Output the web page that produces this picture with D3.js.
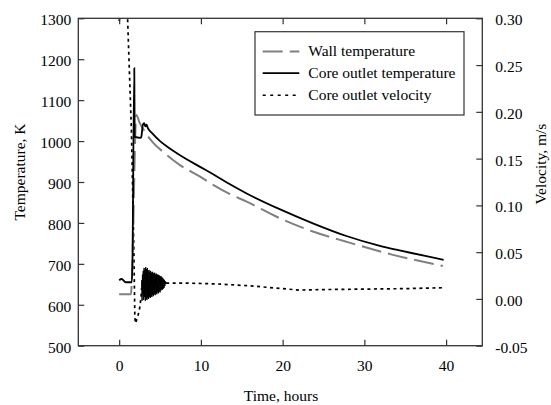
<!DOCTYPE html>
<html>
<head>
<meta charset="utf-8">
<script src="https://cdn.jsdelivr.net/npm/d3@7"></script>
</head>
<body style="margin:0;padding:0;background:#fff">
<svg id="chart" width="551" height="405"></svg>
<script>
// ---------------- data ----------------
const xTicks = [0, 10, 20, 30, 40];
const tempTicks = [500, 600, 700, 800, 900, 1000, 1100, 1200, 1300];
const velTicks = [-0.05, 0.00, 0.05, 0.10, 0.15, 0.20, 0.25, 0.30];
const velTickLabels = ["-0.05", "0.00", "0.05", "0.10", "0.15", "0.20", "0.25", "0.30"];

const seriesNames = ["Wall temperature", "Core outlet temperature", "Core outlet velocity"];

const wallTime = [0, 1.45, 1.55, 2.1, 2.5, 2.9, 3.4, 4.2, 5.6, 7.4, 9.9, 11.5, 13.5, 15.6, 19.7, 23.7, 27.8, 33.5, 39.6];
const wallTemp = [626, 626, 660, 1064, 1045, 1031, 1015, 995, 970, 942, 913, 893, 871, 852, 811, 779, 754, 722, 695];

const coreTime = [0, 0.3, 0.8, 1.55, 1.62, 1.85, 1.9, 2.6, 2.7, 2.9, 3.05, 3.2, 3.35, 3.5, 4.0, 5.0, 6.2, 7.4, 9.9, 11.5, 13.5, 15.6, 19.7, 23.7, 27.8, 31.9, 34.3, 39.7];
const coreTemp = [660, 663, 655, 655, 700, 1178, 1010, 1008, 1010, 1040, 1044, 1036, 1040, 1032, 1020, 1000, 982, 966, 937, 919, 895, 872, 833, 799, 768, 744, 733, 710];

// velocity: start-up transient, oscillation burst (≈2.75–5.75 h), then slow decline
const velTime = [0, 0.4, 0.9, 1.03, 1.5, 1.8, 1.92, 2.0, 2.3, 2.55, 2.7,
  2.750, 2.775, 2.800, 2.825, 2.850, 2.875, 2.900, 2.925, 2.950, 2.975,
  3.000, 3.025, 3.050, 3.075, 3.100, 3.125, 3.150, 3.175, 3.200, 3.225,
  3.250, 3.275, 3.300, 3.325, 3.350, 3.375, 3.400, 3.425, 3.450, 3.475,
  3.500, 3.525, 3.550, 3.575, 3.600, 3.625, 3.650, 3.675, 3.700, 3.725,
  3.750, 3.775, 3.800, 3.825, 3.850, 3.875, 3.900, 3.925, 3.950, 3.975,
  4.000, 4.025, 4.050, 4.075, 4.100, 4.125, 4.150, 4.175, 4.200, 4.225,
  4.250, 4.275, 4.300, 4.325, 4.350, 4.375, 4.400, 4.425, 4.450, 4.475,
  4.500, 4.525, 4.550, 4.575, 4.600, 4.625, 4.650, 4.675, 4.700, 4.725,
  4.750, 4.775, 4.800, 4.825, 4.850, 4.875, 4.900, 4.925, 4.950, 4.975,
  5.000, 5.025, 5.050, 5.075, 5.100, 5.125, 5.150, 5.175, 5.200, 5.225,
  5.250, 5.275, 5.300, 5.325, 5.350, 5.375, 5.400, 5.425, 5.450, 5.475,
  5.500, 5.525, 5.550, 5.575, 5.600, 5.625, 5.650, 5.675, 5.700, 5.725, 5.750,
  6.5, 8, 12, 16, 20, 22, 25, 30, 35, 39.7];
const velValue = [0.297, 0.32, 0.32, 0.30, 0.18, 0.05, -0.02, -0.026, -0.018, -0.008, 0.005,
  0.012, 0.020, -0.002, 0.018, 0.026, 0.008, 0.004, 0.024, 0.030, 0.010,
  -0.001, 0.022, 0.033, 0.006, 0.002, 0.027, 0.031, 0.012, -0.002, 0.019,
  0.034, 0.005, 0.000, 0.025, 0.032, 0.009, -0.001, 0.021, 0.033, 0.004,
  0.001, 0.026, 0.030, 0.011, 0.000, 0.018, 0.031, 0.007, 0.002, 0.024,
  0.029, 0.010, 0.001, 0.020, 0.030, 0.006, 0.003, 0.023, 0.028, 0.012,
  0.002, 0.019, 0.029, 0.008, 0.004, 0.025, 0.028, 0.011, 0.003, 0.021,
  0.027, 0.009, 0.005, 0.022, 0.028, 0.013, 0.004, 0.018, 0.026, 0.010,
  0.006, 0.023, 0.027, 0.012, 0.005, 0.020, 0.026, 0.011, 0.007, 0.022,
  0.026, 0.013, 0.006, 0.019, 0.025, 0.012, 0.008, 0.021, 0.025, 0.014,
  0.007, 0.020, 0.024, 0.013, 0.009, 0.019, 0.024, 0.014, 0.010, 0.020,
  0.023, 0.015, 0.010, 0.018, 0.022, 0.014, 0.011, 0.019, 0.021, 0.015,
  0.012, 0.018, 0.020, 0.015, 0.014, 0.018, 0.019, 0.016, 0.016, 0.018, 0.017,
  0.017, 0.017, 0.016, 0.014, 0.011, 0.0095, 0.0100, 0.0105, 0.011, 0.012];
const burstStart = 2.75, burstEnd = 5.75;

// ---------------- layout ----------------
const FONT_STYLE = "font-family: 'Liberation Serif', serif";
const svg = d3.select("#chart");
const L = 78.3, R = 482.3, T = 18.3, B = 345.7;

const x = d3.scaleLinear().domain([-5, 44.43]).range([L, R]);
const yT = d3.scaleLinear().domain([500, 1300]).range([B, T]);
const yV = d3.scaleLinear().domain([-0.05, 0.30]).range([B, T]);

svg.append("defs").append("clipPath").attr("id", "plotclip")
  .append("rect").attr("x", L).attr("y", T).attr("width", R - L).attr("height", B - T);

const axisColor = "#333";
const fontSize = 15.5;

// ---------------- series ----------------
const g = svg.append("g").attr("clip-path", "url(#plotclip)");

const wallData = wallTime.map((t, i) => [t, wallTemp[i]]);
const coreData = coreTime.map((t, i) => [t, coreTemp[i]]);
const velData = velTime.map((t, i) => [t, velValue[i]]);

const lineT = d3.line().x(d => x(d[0])).y(d => yT(d[1])).curve(d3.curveMonotoneX);
const lineV = d3.line().x(d => x(d[0])).y(d => yV(d[1])).curve(d3.curveLinear);

// velocity: dotted, the dense oscillation burst renders as a solid mass
const velPre = velData.filter(d => d[0] <= burstStart);
const velBurst = velData.filter(d => d[0] >= burstStart && d[0] <= burstEnd);
const velPost = velData.filter(d => d[0] >= burstEnd);
[velPre, velPost].forEach(part => {
  g.append("path").datum(part).attr("d", lineV)
    .attr("fill", "none").attr("stroke", "#000").attr("stroke-width", 1.7)
    .attr("stroke-dasharray", "3,3.5");
});
g.append("path").datum(velBurst).attr("d", lineV)
  .attr("fill", "none").attr("stroke", "#000").attr("stroke-width", 1.0);

g.append("path").datum(wallData).attr("d", lineT)
  .attr("fill", "none").attr("stroke", "#808080").attr("stroke-width", 2)
  .attr("stroke-dasharray", "20,7");

g.append("path").datum(coreData).attr("d", lineT)
  .attr("fill", "none").attr("stroke", "#000").attr("stroke-width", 1.8);

// ---------------- axes ----------------
function styleAxis(sel) {
  sel.attr("font-family", null).attr("font-size", null);
  sel.select(".domain").remove();
  sel.selectAll(".tick line").attr("stroke", axisColor).attr("stroke-width", 1.2);
  sel.selectAll(".tick text").attr("style", FONT_STYLE).attr("font-size", fontSize).attr("fill", "#000");
}

// bottom
const xb = svg.append("g").attr("transform", `translate(0,${B})`)
  .call(d3.axisBottom(x).tickValues(xTicks).tickFormat(d => String(d)).tickSizeInner(-6).tickSizeOuter(0).tickPadding(14));
styleAxis(xb);
xb.selectAll(".tick text").attr("dy", "0.71em");
// top
const xt = svg.append("g").attr("transform", `translate(0,${T})`)
  .call(d3.axisTop(x).tickValues(xTicks).tickFormat("").tickSizeInner(-6).tickSizeOuter(0));
styleAxis(xt);
// left
const yl = svg.append("g").attr("transform", `translate(${L},0)`)
  .call(d3.axisLeft(yT).tickValues(tempTicks).tickFormat(d => String(d)).tickSizeInner(-6).tickSizeOuter(0).tickPadding(7));
styleAxis(yl);
yl.selectAll(".tick text").attr("x", -7).attr("dy", "0.42em");
// right
const yr = svg.append("g").attr("transform", `translate(${R},0)`)
  .call(d3.axisRight(yV).tickValues(velTicks).tickFormat((d, i) => velTickLabels[i]).tickSizeInner(-6).tickSizeOuter(0).tickPadding(13));
styleAxis(yr);
yr.selectAll(".tick text").attr("x", 13).attr("dy", "0.42em");

// frame
svg.append("rect").attr("x", L).attr("y", T).attr("width", R - L).attr("height", B - T)
  .attr("fill", "none").attr("stroke", axisColor).attr("stroke-width", 1.3);

// axis titles
function title(sel) {
  return sel.attr("style", FONT_STYLE).attr("font-size", fontSize).attr("fill", "#000")
    .attr("text-anchor", "middle");
}
title(svg.append("text")).attr("x", 281).attr("y", 401).text("Time, hours");
title(svg.append("text")).attr("transform", "translate(25,172) rotate(-90)").text("Temperature, K");
title(svg.append("text")).attr("transform", "translate(546,164) rotate(-90)").text("Velocity, m/s");

// ---------------- legend ----------------
const lg = svg.append("g");
lg.append("rect").attr("x", 255).attr("y", 31.7).attr("width", 209).attr("height", 83.3)
  .attr("fill", "#fff").attr("stroke", axisColor).attr("stroke-width", 1.2);
const legendStyles = [
  {stroke: "#808080", width: 2, dash: "20,7"},
  {stroke: "#000", width: 1.8, dash: null},
  {stroke: "#000", width: 1.6, dash: "3,4.5"}
];
const rowY = [51.5, 73.2, 95.2];
seriesNames.forEach((name, i) => {
  const s = legendStyles[i];
  const ln = lg.append("line").attr("x1", 262.7).attr("x2", 299.3).attr("y1", rowY[i]).attr("y2", rowY[i])
    .attr("stroke", s.stroke).attr("stroke-width", s.width);
  if (s.dash) ln.attr("stroke-dasharray", s.dash);
  lg.append("text").attr("x", 308.3).attr("y", rowY[i] + 4.5)
    .attr("style", FONT_STYLE).attr("font-size", fontSize).attr("fill", "#000").text(name);
});
</script>
</body>
</html>
